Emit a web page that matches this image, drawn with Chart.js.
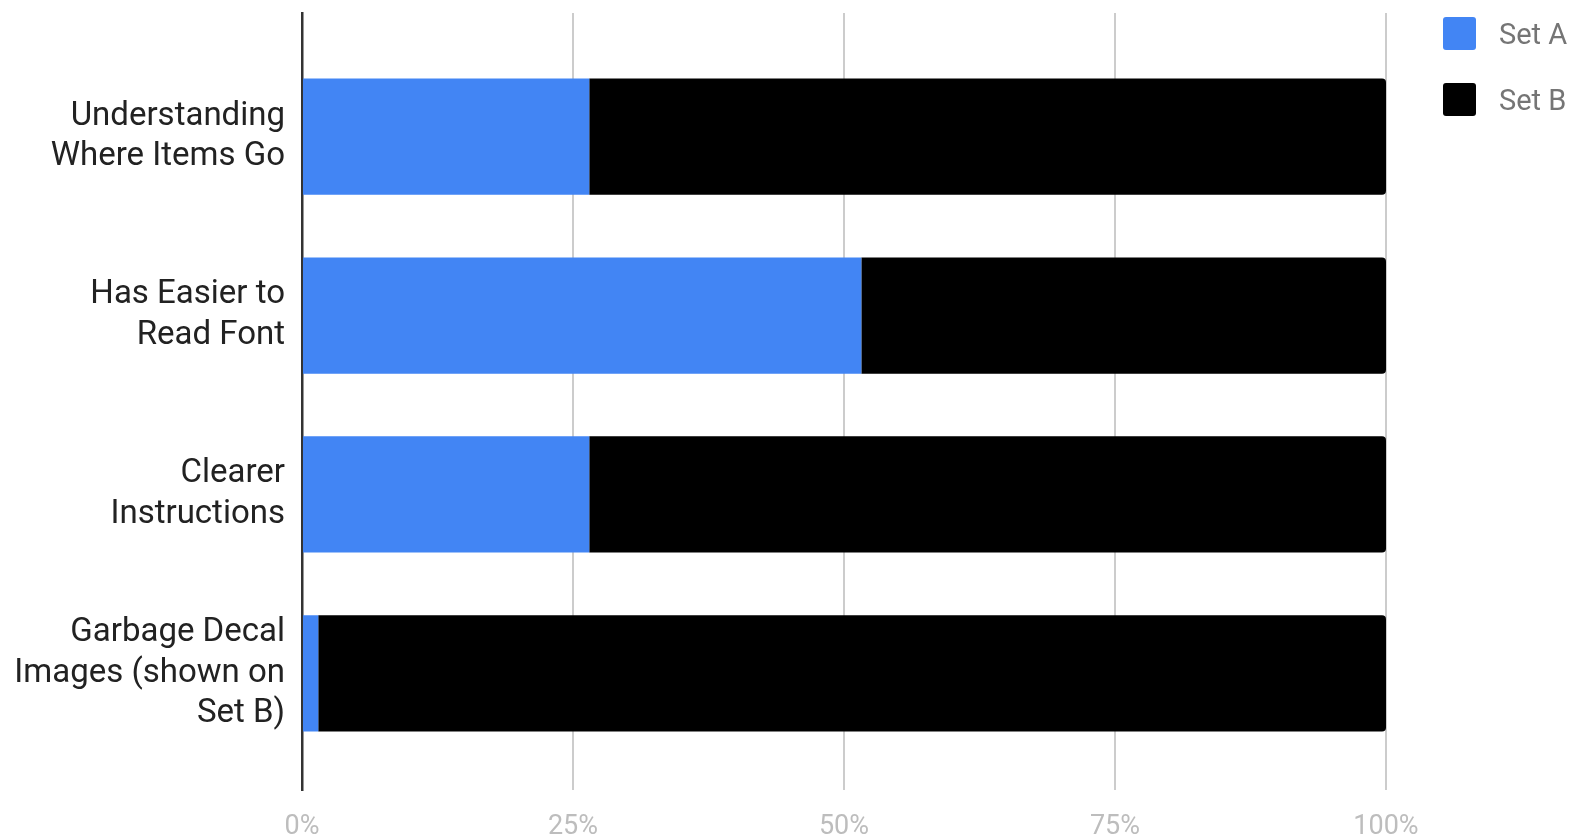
<!DOCTYPE html>
<html>
<head>
<meta charset="utf-8">
<script src="https://cdn.jsdelivr.net/npm/chart.js@4/dist/chart.umd.min.js"></script>
<style>
  html, body { margin: 0; padding: 0; background: #fff; }
  #wrap { position: relative; width: 1575px; height: 840px; }
  #legend { position: absolute; left: 1443px; top: 17px; font-family: Roboto, sans-serif; font-size: 29px; color: #757575; }
  .item { display: flex; align-items: center; height: 33px; margin-bottom: 33px; }
  .box { width: 33px; height: 33px; border-radius: 3px; margin-right: 23px; }
</style>
</head>
<body>
<div id="wrap">
  <canvas id="chart" width="1575" height="840"></canvas>
  <div id="legend"></div>
</div>
<script>
// categories (multi-line labels as shown)
const categories = [
  ['Understanding', 'Where Items Go'],
  ['Has Easier to', 'Read Font'],
  ['Clearer', 'Instructions'],
  ['Garbage Decal', 'Images (shown on', 'Set B)']
];
// percent shares
const setA = [26.5, 51.6, 26.5, 1.5];
const setB = [73.5, 48.4, 73.5, 98.5];
const xTicks = [0, 25, 50, 75, 100];

const colorA = '#4285f4';
const colorB = '#000000';

document.addEventListener('DOMContentLoaded', function() {
    const ctx = document.getElementById('chart');

    const chart = new Chart(ctx, {
        type: 'bar',
        data: {
            datasets: [{
                label: 'Set A',
                data: setA.map((v, i) => ({ x: v, y: i })),
                backgroundColor: colorA,
                borderWidth: 0
            }, {
                label: 'Set B',
                data: setB.map((v, i) => ({ x: v, y: i })),
                backgroundColor: colorB,
                borderWidth: 0,
                borderRadius: 4
            }]
        },
        options: {
            indexAxis: 'y',
            responsive: false,
            animation: false,
            devicePixelRatio: 1,
            barPercentage: 0.65,
            categoryPercentage: 1,
            layout: { padding: { top: 13, right: 189, left: 0, bottom: 0 } },
            plugins: {
                legend: { display: false },
                tooltip: { enabled: false }
            },
            scales: {
                x: {
                    type: 'linear',
                    stacked: true,
                    min: 0,
                    max: 100,
                    afterBuildTicks: function(scale) {
                        scale.ticks = xTicks.map(v => ({ value: v }));
                    },
                    ticks: {
                        callback: v => v + '%',
                        color: '#bdbdbd',
                        padding: 21,
                        font: { family: 'Roboto', size: 27 }
                    },
                    grid: {
                        drawTicks: false,
                        lineWidth: 2,
                        color: c => (c.tick && c.tick.value === 0) ? '#333333' : '#cccccc'
                    },
                    border: { display: false },
                    afterFit: function(scale) {
                        scale.height = 50;
                        scale.paddingLeft = 0;
                        scale.paddingRight = 0;
                    }
                },
                y: {
                    type: 'linear',
                    stacked: true,
                    reverse: true,
                    offset: false,
                    min: -0.691,
                    max: 3.652,
                    afterBuildTicks: function(scale) {
                        scale.ticks = categories.map((c, i) => ({ value: i }));
                    },
                    ticks: {
                        autoSkip: false,
                        callback: v => categories[v],
                        color: '#222222',
                        padding: 17,
                        font: { family: 'Roboto', size: 33, lineHeight: 1.23 }
                    },
                    grid: { display: false, drawTicks: false },
                    border: { display: true, color: '#333333', width: 2.5 },
                    afterFit: function(scale) {
                        scale.width = 302;
                        scale.paddingTop = 0;
                        scale.paddingBottom = 0;
                    }
                }
            }
        }
    });

    // legend in the top right corner
    const legend = document.getElementById('legend');
    chart.data.datasets.forEach(function(ds) {
        const item = document.createElement('div');
        item.className = 'item';
        const box = document.createElement('div');
        box.className = 'box';
        box.style.background = ds.backgroundColor;
        const text = document.createElement('span');
        text.textContent = ds.label;
        item.appendChild(box);
        item.appendChild(text);
        legend.appendChild(item);
    });
});
</script>
</body>
</html>
